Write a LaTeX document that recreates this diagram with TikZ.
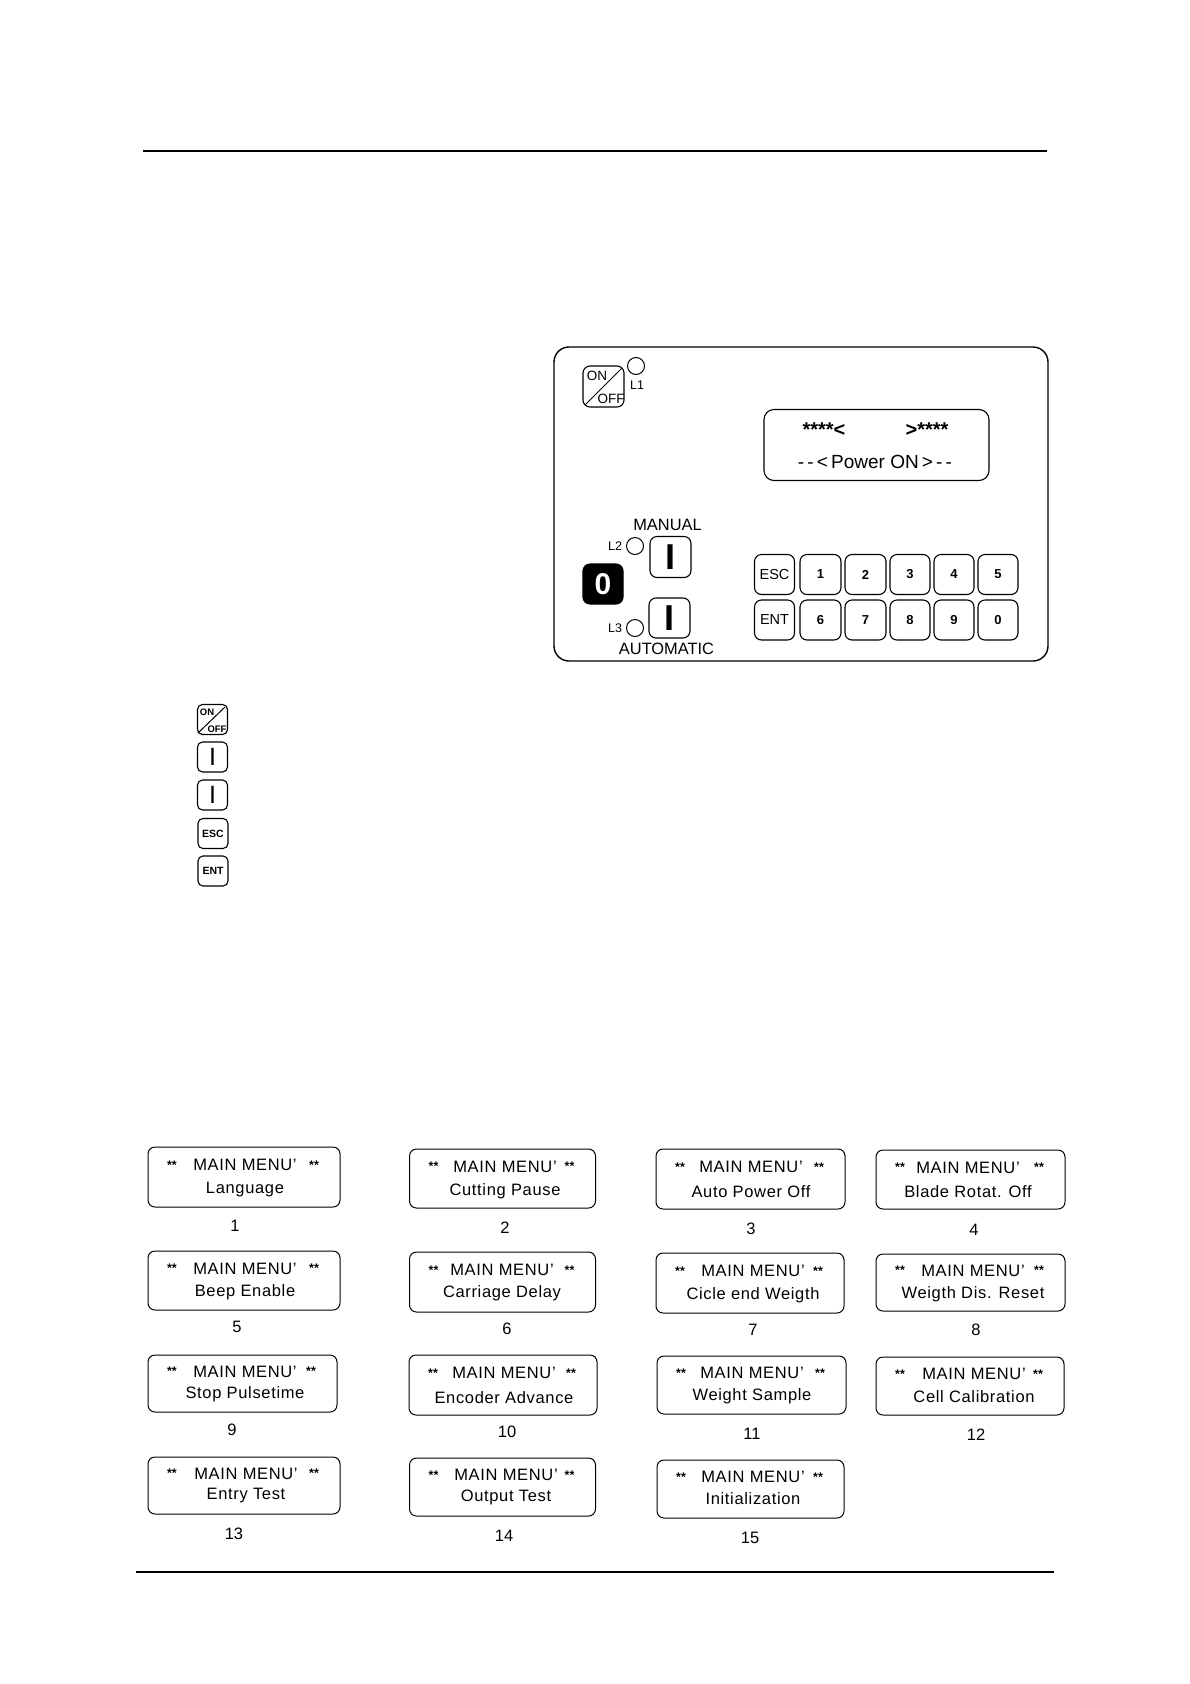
\documentclass[tikz,border=0pt]{standalone}
\usepackage{fontspec}
\setmainfont{Liberation Sans}
\newfontfamily\menufont[LetterSpace=4]{Liberation Sans}
\usetikzlibrary{positioning}

\tikzset{
    rule/.style={line width=1.6pt},
    keybox/.style={draw, rounded corners=7pt, line width=1.1pt, inner sep=0pt, minimum height=40pt},
    smallkey/.style={draw, rounded corners=5pt, line width=1.1pt, inner sep=0pt, minimum width=30pt, minimum height=30pt},
    lamp/.style={draw, circle, line width=1pt, inner sep=0pt, minimum size=17pt},
    paneltext/.style={inner sep=0pt, font=\fontsize{16.4}{18}\selectfont},
    lamptext/.style={inner sep=0pt, font=\fontsize{12.5}{14}\selectfont},
    menubox/.style={draw, rounded corners=7pt, line width=1pt, inner sep=0pt},
    menutext/.style={anchor=base, inner sep=0pt, font=\menufont\fontsize{16.5}{18}\selectfont},
    menustars/.style={anchor=base, inner sep=0pt, font=\bfseries\fontsize{12.5}{14}\selectfont},
    menunum/.style={inner sep=0pt, font=\fontsize{16.5}{18}\selectfont}
}

\begin{document}
\begin{tikzpicture}[x=1pt,y=-1pt]
\useasboundingbox (0,0) rectangle (1190,1684);
% page rules
\coordinate (topa) at (143,151);
\coordinate (topb) at (1047,151);
\coordinate (bota) at (136,1572);
\coordinate (botb) at (1054,1572);
\draw[rule] (topa)--(topb);
\draw[rule] (bota)--(botb);

% control panel
\node[draw, rounded corners=15pt, line width=1.4pt, minimum width=494pt, minimum height=314pt] (panel) at (801,504) {};
\node[keybox, minimum width=41pt, minimum height=41pt] (onoff) at (603.5,386.5) {};
\draw[line width=1pt] (585,405)--(622,368);
\node[inner sep=0pt, font=\fontsize{13.5}{16}\selectfont] (ontext) at (597,376) {ON};
\node[inner sep=0pt, font=\fontsize{13.5}{16}\selectfont] (offtext) at (611,399) {OFF};
\node[lamp] (lone) at (636,366) {};
\node[lamptext] (lonetext) at (637,385) {L1};

% display
\node[draw, rounded corners=10pt, line width=1.1pt, minimum width=225pt, minimum height=71pt] (display) at (876.5,445) {};
\node[anchor=base, inner sep=0pt, font=\bfseries\fontsize{20}{22}\selectfont] (starsa) at (824,436) {****<};
\node[anchor=base, inner sep=0pt, font=\bfseries\fontsize{20}{22}\selectfont] (starsb) at (927,436) {>****};
\node[anchor=base, inner sep=0pt, font=\fontsize{19}{21}\selectfont] (power) at (875,468) {{-}\,{-}\,<\,Power ON\,>\,{-}\,{-}};

% manual and automatic keys
\node[paneltext] (manual) at (667.5,525) {MANUAL};
\node[lamptext] (ltwotext) at (615,546) {L2};
\node[lamp] (ltwo) at (635,546) {};
\node[keybox, minimum width=41pt, minimum height=41pt, font=\bfseries\fontsize{36}{38}\selectfont] (keyman) at (670.5,557) {I};
\node[keybox, fill=black, text=white, minimum width=40pt, font=\bfseries\fontsize{30}{32}\selectfont] (zero) at (603,584) {0};
\node[keybox, minimum width=41pt, minimum height=40pt, font=\bfseries\fontsize{36}{38}\selectfont] (keyauto) at (669.5,618) {I};
\node[lamptext] (lthreetext) at (615,628) {L3};
\node[lamp] (lthree) at (635,628) {};
\node[paneltext] (automatic) at (666.5,649) {AUTOMATIC};

% keypad
\foreach \nm/\cx/\kw/\lab/\fnt in {esc/774.5/40/ESC/\fontsize{14.5}{16}\selectfont,a/820.5/41/1/\bfseries\fontsize{13}{15}\selectfont,b/865.5/41/2/\bfseries\fontsize{13}{15}\selectfont,c/910/40/3/\bfseries\fontsize{13}{15}\selectfont,d/954/40/4/\bfseries\fontsize{13}{15}\selectfont,e/998/40/5/\bfseries\fontsize{13}{15}\selectfont}
    \node[keybox, minimum width=\kw pt, font=\fnt] (top\nm) at (\cx,574.5) {\lab};
\foreach \nm/\cx/\kw/\lab/\fnt in {ent/774.5/40/ENT/\fontsize{14.5}{16}\selectfont,f/820.5/41/6/\bfseries\fontsize{13}{15}\selectfont,g/865.5/41/7/\bfseries\fontsize{13}{15}\selectfont,h/910/40/8/\bfseries\fontsize{13}{15}\selectfont,i/954/40/9/\bfseries\fontsize{13}{15}\selectfont,j/998/40/0/\bfseries\fontsize{13}{15}\selectfont}
    \node[keybox, minimum width=\kw pt, font=\fnt] (bot\nm) at (\cx,620) {\lab};

% key legend
\node[smallkey] (iconoff) at (212.5,719.5) {};
\draw[line width=1pt] (198,733)--(225,707);
\node[inner sep=0pt, font=\bfseries\fontsize{9.5}{11}\selectfont] (iconon) at (207,712) {ON};
\node[inner sep=0pt, font=\bfseries\fontsize{9.5}{11}\selectfont] (iconofftext) at (217,729) {OFF};
\node[smallkey, font=\fontsize{25}{27}\selectfont] (iconman) at (212.5,757) {I};
\node[smallkey, font=\fontsize{25}{27}\selectfont] (iconauto) at (212.5,795) {I};
\node[smallkey, font=\bfseries\fontsize{10.5}{12}\selectfont] (iconesc) at (213,833.5) {ESC};
\node[smallkey, font=\bfseries\fontsize{10.5}{12}\selectfont] (iconent) at (213,871) {ENT};

% menu pages
\foreach \idx/\cx/\cy/\bw/\bh/\tx/\txt/\dy/\nx/\ny in {
    1/244/1177/192/60/245/Language/16/235/1226,
    2/502.5/1178.5/186/59/505/Cutting Pause/17/505/1228,
    3/750.5/1179/189/60/751/Auto Power Off/18/751/1229,
    4/970.5/1179.5/189/59/968/Blade Rotat. Off/18/974/1230,
    5/244/1280.5/192/59/245/Beep Enable/16/237/1327,
    6/502.5/1282/186/60/502/Carriage Delay/15/507/1329,
    7/750/1283/188/60/753/Cicle end Weigth/16/753/1330,
    8/970.5/1282.5/189/57/973/Weigth Dis. Reset/16/976/1330,
    9/242.5/1383.5/189/57/245/Stop Pulsetime/15/232/1430,
    10/503/1385/188/60/504/Encoder Advance/18/507/1432,
    11/751.5/1385/189/58/752/Weight Sample/15/752/1434,
    12/970/1386/188/58/974/Cell Calibration/16/976/1435,
    13/244/1485.5/192/57/246/Entry Test/14/234/1534,
    14/502.5/1487/186/58/506/Output Test/14/504/1536,
    15/750.5/1489/187/58/753/Initialization/15/750/1538}
{
    \node[menubox, minimum width=\bw pt, minimum height=\bh pt] (box\idx) at (\cx,\cy) {};
    \node[menustars] (lstars\idx) at (\cx-\bw/2+24,\cy-8) {**};
    \node[menustars] (rstars\idx) at (\cx+\bw/2-26,\cy-8) {**};
    \node[menutext] (title\idx) at (\tx,\cy-6.5) {MAIN MENU’};
    \node[menutext] (item\idx) at (\tx,\cy+\dy) {\txt};
    \node[menunum] (num\idx) at (\nx,\ny) {\idx};
}
\end{tikzpicture}
\end{document}
